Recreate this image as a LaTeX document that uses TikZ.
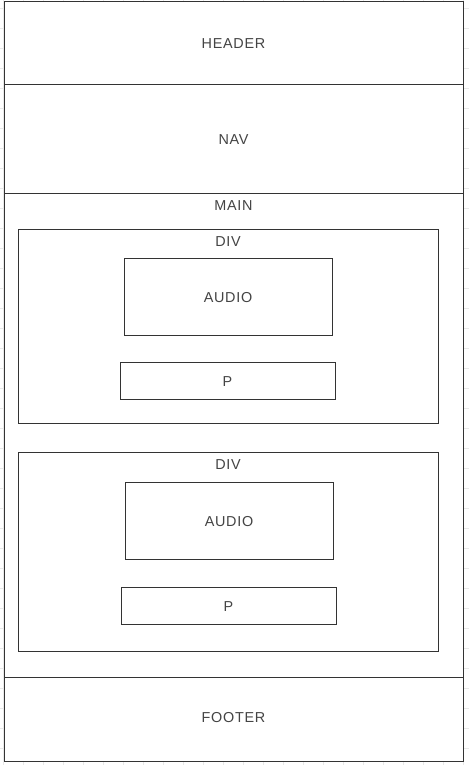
\documentclass[tikz,border=0pt]{standalone}
\usepackage{fontspec}
\setmainfont[LetterSpace=5]{Liberation Sans}
\usetikzlibrary{positioning}
\definecolor{lineclr}{HTML}{333333}
\definecolor{textclr}{HTML}{444444}
\tikzset{
  box/.style={draw=lineclr, line width=0.75pt, fill=white, inner sep=0pt, text=textclr, text height=9.2pt, text depth=0pt, font=\fontsize{10.8}{13}\selectfont},
  toplabel/.style={anchor=center, inner sep=0.75pt, yshift=-0.75pt, text=textclr, font=\fontsize{10.8}{13}\selectfont}
}
\begin{document}
\begin{tikzpicture}[x=0.75pt,y=0.75pt,yscale=-1,xscale=1]
\useasboundingbox (0,0) rectangle (469,765);
% faint page grid
\foreach \gx in {3.3,23.3,...,470} \draw [black!9, line width=0.6pt] (\gx,0) -- (\gx,765);
\foreach \gy in {8.3,28.3,...,770} \draw [black!9, line width=0.6pt] (0,\gy) -- (469,\gy);
% page sections
\node [box, minimum width=459*0.75pt, minimum height=83*0.75pt] (header) at (233.5,42.5) {HEADER};
\node [box, minimum width=459*0.75pt, minimum height=109*0.75pt] (nav) at (233.5,138.5) {NAV};
\node [box, minimum width=459*0.75pt, minimum height=484*0.75pt] (main) at (233.5,435) {};
\node [box, minimum width=459*0.75pt, minimum height=84*0.75pt] (footer) at (233.5,719) {};
\draw (233.5,717) node [toplabel] (footerlbl) {FOOTER};
\draw (233.5,205) node [toplabel] (mainlbl) {MAIN};
% first div
\node [box, minimum width=420*0.75pt, minimum height=194*0.75pt] (div1) at (228,326) {};
\draw (228,241) node [toplabel] (div1lbl) {DIV};
\node [box, minimum width=208*0.75pt, minimum height=77*0.75pt] (audio1) at (228,296.5) {AUDIO};
\node [box, minimum width=215*0.75pt, minimum height=37*0.75pt] (p1) at (227.5,380.5) {P};
% second div
\node [box, minimum width=420*0.75pt, minimum height=199*0.75pt] (div2) at (228,551.5) {};
\draw (228,464) node [toplabel] (div2lbl) {DIV};
\node [box, minimum width=208*0.75pt, minimum height=77*0.75pt] (audio2) at (229,520.5) {AUDIO};
\node [box, minimum width=215*0.75pt, minimum height=37*0.75pt] (p2) at (228.5,605.5) {P};
\end{tikzpicture}
\end{document}
